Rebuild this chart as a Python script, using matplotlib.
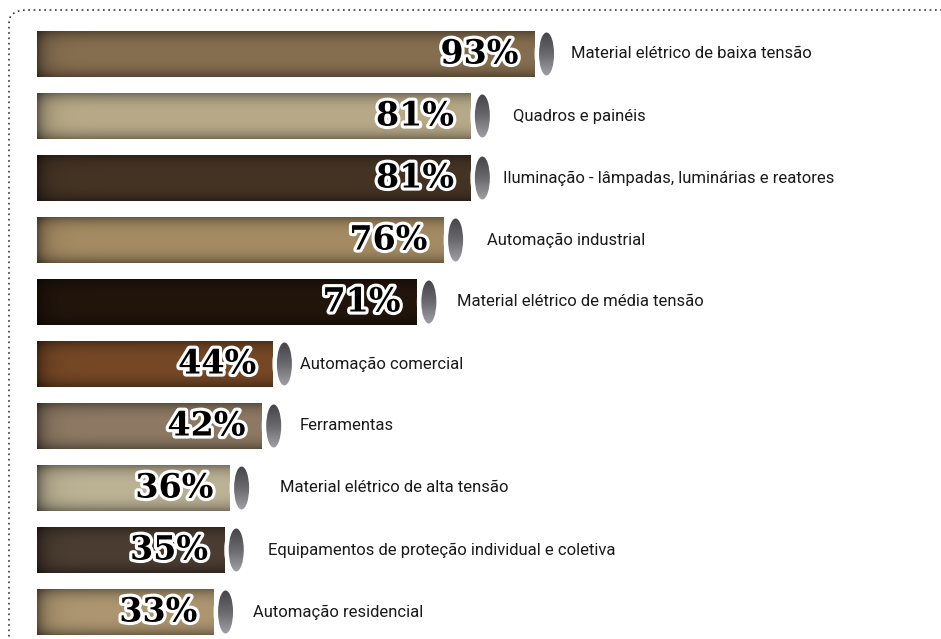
import numpy as np
import matplotlib
matplotlib.use("Agg")
from matplotlib import pyplot as plt
from matplotlib.patches import Ellipse, FancyBboxPatch
import matplotlib.patheffects as pe

# dados
categorias = [
    "Material elétrico de baixa tensão",
    "Quadros e painéis",
    "Iluminação - lâmpadas, luminárias e reatores",
    "Automação industrial",
    "Material elétrico de média tensão",
    "Automação comercial",
    "Ferramentas",
    "Material elétrico de alta tensão",
    "Equipamentos de proteção individual e coletiva",
    "Automação residencial",
]
valores = [93, 81, 81, 76, 71, 44, 42, 36, 35, 33]
cores = ["#866e50", "#b8aa88", "#453424", "#a48b63", "#22150c",
         "#764826", "#8e7a64", "#bcb294", "#4b3d31", "#ad9670"]

# distancia do texto ao fim da barra (px), como no original
gap_px = [36, 43, 33, 43, 40, 28, 38, 50, 44, 39]

W, H = 941, 639
PX = 5.35          # pixels por ponto percentual
X0 = 37            # inicio das barras em px
ROW = 62           # distancia entre linhas em px
Y0 = 54            # centro da primeira linha em px
BH = 46 / ROW      # altura da barra

fig = plt.figure(figsize=(W / 100, H / 100), dpi=100)
ax = fig.add_axes([0, 0, 1, 1])
ax.set_xlim(-X0 / PX, (W - X0) / PX)
ax.set_ylim((H - Y0) / ROW, -Y0 / ROW)
ax.axis("off")


def sombra(n_x, n_y):
    t = np.linspace(-1, 1, n_y)[:, None]
    sy = 1 - 0.35 * np.abs(t) ** 3
    xs = np.arange(n_x)[None, :]
    sx = 1 - 0.45 * np.exp(-xs / 9.0)
    return sy * sx


cinza = matplotlib.colors.LinearSegmentedColormap.from_list(
    "cinza", ["#444448", "#69696d", "#a0a0a4"])

for i, (v, c) in enumerate(zip(valores, cores)):
    base = np.array(matplotlib.colors.to_rgb(c))
    nx = max(int(v * PX), 2)
    img = sombra(nx, 46)[:, :, None] * base[None, None, :]
    ax.imshow(np.clip(img, 0, 1), extent=(0, v, i + BH / 2, i - BH / 2),
              aspect="auto", interpolation="bilinear", zorder=2)

    # tampa da barra
    cx = v + 12 / PX
    ax.add_patch(Ellipse((cx - 3.5 / PX, i), 17 / PX, 47 / ROW,
                         facecolor="white", edgecolor="none", zorder=3))
    tampa = Ellipse((cx, i), 15 / PX, 43 / ROW, facecolor="none",
                    edgecolor="none", zorder=4)
    ax.add_patch(tampa)
    g = np.linspace(0, 1, 40)[:, None] * np.ones((1, 4))
    gi = ax.imshow(g, cmap=cinza,
                   extent=(cx - 8 / PX, cx + 8 / PX, i + 0.36, i - 0.36),
                   aspect="auto", zorder=4, interpolation="bilinear")
    gi.set_clip_path(tampa)

    # percentual
    ax.annotate(f"{v}%", (v, i), xytext=(-16, 0), textcoords="offset pixels",
                ha="right", va="center", fontsize=24, fontweight="bold",
                family="DejaVu Serif", color="black", zorder=5,
                path_effects=[pe.withStroke(linewidth=4.5, foreground="white")])

    # categoria
    ax.annotate(categorias[i], (v, i), xytext=(gap_px[i], 0),
                textcoords="offset pixels", ha="left", va="center",
                fontsize=12, family="Roboto", color="#1a1a1a", zorder=5)

# moldura pontilhada
borda = FancyBboxPatch((9 / W, -0.1), 1.1, 1.1 - 10 / H,
                       boxstyle="round,pad=0,rounding_size=0.02",
                       transform=fig.transFigure, facecolor="none",
                       edgecolor="#333333", linewidth=1.2,
                       linestyle=(0, (1, 2.2)), zorder=1, clip_on=False)
fig.patches.append(borda)

fig.savefig("out.png", dpi=100)
